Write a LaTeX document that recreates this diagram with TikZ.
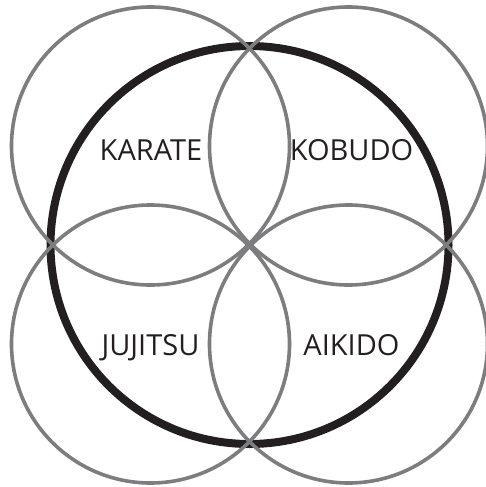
\documentclass[tikz,border=0pt]{standalone}
\usepackage{fontspec}
\setmainfont{Open Sans}
\definecolor{ringgray}{RGB}{125,125,128}
\definecolor{ringblack}{RGB}{35,31,32}
\definecolor{labelblack}{RGB}{35,31,32}
\begin{document}
\begin{tikzpicture}[x=1pt,y=-1pt,
  grayring/.style={draw=ringgray,line width=3.6pt},
  bigring/.style={draw=ringblack,line width=8pt},
  art/.style={anchor=base,inner sep=0pt,text=labelblack,font=\fontsize{29}{29}\selectfont}]
\useasboundingbox (0,0) rectangle (485,487);
\coordinate (c) at (249.5,245);
\coordinate (tl) at (150.5,146);
\coordinate (tr) at (348.5,146);
\coordinate (bl) at (150.5,344);
\coordinate (br) at (348.5,344);
\draw[bigring] (c) circle[radius=199pt];
\draw[grayring] (tl) circle[radius=139pt];
\draw[grayring] (tr) circle[radius=139pt];
\draw[grayring] (bl) circle[radius=139pt];
\draw[grayring] (br) circle[radius=139pt];
\node[art] (karate) at (151,160) {KARATE};
\node[art] (kobudo) at (351.5,160.5) {KOBUDO};
\node[art] (jujitsu) at (150.5,355) {JUJITSU};
\node[art] (aikido) at (351.5,355.5) {AIKIDO};
\end{tikzpicture}
\end{document}
